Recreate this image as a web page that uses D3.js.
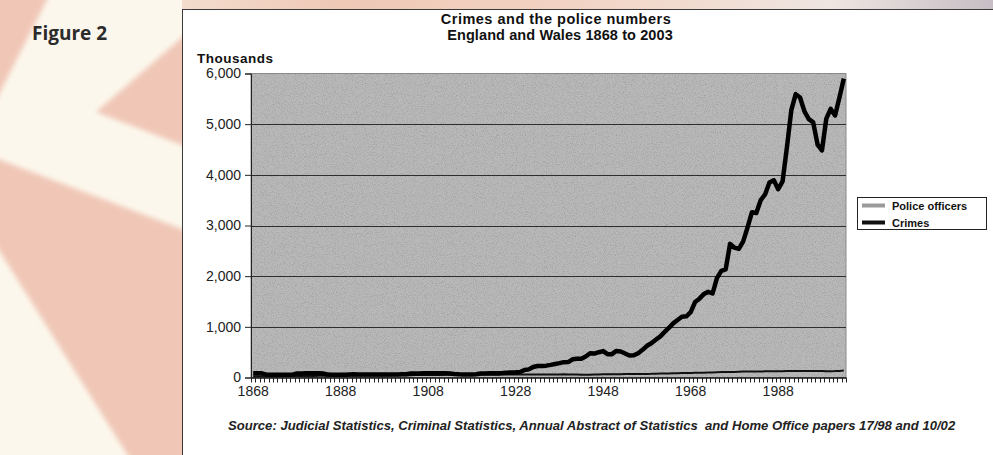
<!DOCTYPE html>
<html>
<head>
<meta charset="utf-8">
<script src="https://cdn.jsdelivr.net/npm/d3@7"></script>
<style>
  body { margin: 0; background: #fcf7ec; }
  svg { display: block; font-family: "Liberation Sans", Arial, sans-serif; }
</style>
</head>
<body>
<svg id="chart" width="993" height="455"></svg>
<script>
// Recorded crimes and police officers, England and Wales (thousands)
const startYear = 1868, endYear = 2003;
const years = d3.range(startYear, endYear + 1);

const crimes = [
  85, 86, 83, 56, 54, 55, 53, 52, 54, 56,            // 1868-1877
  80, 81, 82, 83, 84, 82, 79, 57, 56, 55,            // 1878-1887
  54, 55, 60, 62, 61, 60, 61, 59, 58, 58,            // 1888-1897
  59, 57, 58, 60, 62, 63, 78, 80, 81, 82,            // 1898-1907
  83, 85, 84, 82, 83, 81, 70, 62, 58, 57,            // 1908-1917
  60, 63, 80, 79, 82, 83, 85, 88, 96, 100,           // 1918-1927
  103, 108, 148, 160, 208, 227, 229, 234, 249, 266,  // 1928-1937
  283, 303, 305, 359, 372, 372, 415, 478, 472, 499,  // 1938-1947
  522, 460, 461, 525, 513, 473, 434, 438, 480, 546,  // 1948-1957
  626, 676, 744, 807, 896, 978, 1068, 1134, 1199, 1207, // 1958-1967
  1290, 1489, 1556, 1646, 1690, 1658, 1963, 2106, 2136, 2637, // 1968-1977
  2562, 2537, 2688, 2964, 3262, 3247, 3499, 3612, 3847, 3892, // 1978-1987
  3716, 3871, 4544, 5276, 5592, 5526, 5253, 5100, 5036, 4598, // 1988-1997
  4482, 5109, 5301, 5171, 5527, 5899                  // 1998-2003
];

const police = [
  24, 24.5, 25, 25.5, 26, 26.5, 27, 27.5, 28, 28.5,  // 1868-1877
  29, 30, 31, 31.5, 32, 32.5, 33, 33.5, 34, 34.5,    // 1878-1887
  35, 36, 37, 37.5, 38, 38.5, 39, 39.5, 40, 40.5,    // 1888-1897
  41, 41.5, 42, 43, 44, 45, 46, 47, 47.5, 48,        // 1898-1907
  48.5, 49, 50, 51, 52, 53, 52, 50, 48, 47,          // 1908-1917
  50, 55, 57, 57, 56, 56, 56, 57, 57, 57,            // 1918-1927
  58, 58, 59, 59, 59, 59, 59, 60, 60, 61,            // 1928-1937
  61, 62, 60, 58, 57, 55, 54, 55, 58, 60,            // 1938-1947
  62, 62, 63, 64, 66, 67, 67, 68, 69, 70,            // 1948-1957
  71, 72, 75, 77, 79, 81, 83, 86, 88, 90,            // 1958-1967
  91, 92, 93, 96, 99, 101, 104, 107, 108, 107,       // 1968-1977
  108, 112, 117, 119, 120, 120, 120, 121, 121, 122,  // 1978-1987
  124, 125, 127, 127, 128, 127, 127, 127, 127, 127,  // 1988-1997
  126, 125, 124, 126, 130, 136                        // 1998-2003
];

const yTicks = [0, 1000, 2000, 3000, 4000, 5000, 6000];
const xLabelYears = [1868, 1888, 1908, 1928, 1948, 1968, 1988];
const seriesNames = ["Police officers", "Crimes"];
const titleLines = ["Crimes and the police numbers", "England and Wales 1868 to 2003"];
const sourceText = "Source: Judicial Statistics, Criminal Statistics, Annual Abstract of Statistics  and Home Office papers 17/98 and 10/02";

const svg = d3.select("#chart");

// ---- page decoration behind the chart panel ----
const defs = svg.append("defs");
const topGrad = defs.append("linearGradient").attr("id", "topStrip")
  .attr("x1", "0").attr("x2", "1").attr("y1", "0").attr("y2", "0");
[["0%", "#f3dccd"], ["20%", "#efc8b6"], ["45%", "#f2d2c2"], ["65%", "#f1ddd2"],
 ["80%", "#efe6e2"], ["92%", "#d6cdd0"], ["100%", "#c6bec4"]]
  .forEach(([o, c]) => topGrad.append("stop").attr("offset", o).attr("stop-color", c));

// soft edges for the page shapes
defs.append("filter").attr("id", "soft")
  .attr("x", "-10%").attr("y", "-10%").attr("width", "120%").attr("height", "120%")
  .append("feGaussianBlur").attr("stdDeviation", 2.5);

// fine grain for the plot background
const grain = defs.append("filter").attr("id", "grain")
  .attr("x", 0).attr("y", 0).attr("width", "100%").attr("height", "100%");
grain.append("feTurbulence").attr("type", "fractalNoise").attr("baseFrequency", 0.9)
  .attr("numOctaves", 2).attr("seed", 7).attr("result", "noise");
grain.append("feColorMatrix").attr("in", "noise").attr("type", "matrix")
  .attr("values", "0 0 0 0 0  0 0 0 0 0  0 0 0 0 0  1 0 0 0 -0.45");

svg.append("rect").attr("width", 993).attr("height", 455).attr("fill", "#fcf7ec");
svg.append("rect").attr("x", 182).attr("y", 0).attr("width", 811).attr("height", 10)
  .attr("fill", "url(#topStrip)");

const peach = "#f0c7b7";
const shapes = [
  [[-10, -10], [52, -10], [-10, 112]],
  [[96, 112], [200, 22], [200, 152]],
  [[-10, 156], [200, 236], [200, 470], [137, 470], [-10, 236]]
];
svg.append("g").attr("filter", "url(#soft)")
  .selectAll("polygon").data(shapes).join("polygon")
  .attr("points", d => d.map(p => p.join(",")).join(" "))
  .attr("fill", peach);

svg.append("text").attr("x", 32).attr("y", 40)
  .attr("font-family", "'Open Sans', sans-serif").attr("font-weight", 700)
  .attr("font-size", 19).attr("fill", "#2b2b2b").text("Figure 2");

// ---- chart panel ----
svg.append("rect").attr("x", 182.5).attr("y", 9.5).attr("width", 830).attr("height", 460)
  .attr("fill", "#ffffff").attr("stroke", "#3a3a3a").attr("stroke-width", 1);

const plot = { left: 251, right: 846, top: 73.5, bottom: 377.5 };

const x = d3.scaleBand().domain(years).range([plot.left, plot.right]).paddingInner(0).paddingOuter(0);
const xc = yr => x(yr) + x.bandwidth() / 2;
const y = d3.scaleLinear().domain([0, 6000]).range([plot.bottom, plot.top]);

// plot background
svg.append("rect").attr("x", plot.left).attr("y", plot.top)
  .attr("width", plot.right - plot.left).attr("height", plot.bottom - plot.top)
  .attr("fill", "#b9b9b9");
svg.append("rect").attr("x", plot.left).attr("y", plot.top)
  .attr("width", plot.right - plot.left).attr("height", plot.bottom - plot.top)
  .attr("fill", "#fff").attr("filter", "url(#grain)").attr("opacity", 0.35);
svg.append("rect").attr("x", plot.left).attr("y", plot.top)
  .attr("width", plot.right - plot.left).attr("height", plot.bottom - plot.top)
  .attr("fill", "none").attr("stroke", "#8a8a8a").attr("stroke-width", 1);

// gridlines
svg.append("g").selectAll("line").data(yTicks.filter(t => t > 0 && t < 6000)).join("line")
  .attr("x1", plot.left).attr("x2", plot.right)
  .attr("y1", d => Math.round(y(d)) + 0.5).attr("y2", d => Math.round(y(d)) + 0.5)
  .attr("stroke", "#2e2e2e").attr("stroke-width", 1);

// y axis
const yAxis = d3.axisLeft(y).tickValues(yTicks).tickFormat(d3.format(",")).tickSize(6).tickPadding(4);
const gy = svg.append("g").attr("transform", `translate(${plot.left},0)`).call(yAxis);
gy.select(".domain").attr("stroke", "#222");
gy.selectAll(".tick line").attr("stroke", "#222");
gy.selectAll(".tick text").attr("font-size", 14).attr("fill", "#222")
  .attr("font-family", "'Liberation Sans', Arial, sans-serif");

// x axis: one tick per year boundary, labels every twenty years
const gx = svg.append("g").attr("transform", `translate(0,${plot.bottom})`);
gx.append("line").attr("x1", plot.left).attr("x2", plot.right).attr("y1", 0.5).attr("y2", 0.5)
  .attr("stroke", "#111").attr("stroke-width", 1.5);
const boundaries = years.map(yr => x(yr)).concat([plot.right]);
gx.selectAll("line.tk").data(boundaries).join("line").attr("class", "tk")
  .attr("x1", d => Math.round(d) + 0.5).attr("x2", d => Math.round(d) + 0.5)
  .attr("y1", 0).attr("y2", 5).attr("stroke", "#222").attr("stroke-width", 1);
const xAxis = d3.axisBottom(x).tickValues(xLabelYears).tickSize(0).tickPadding(9);
const gxl = svg.append("g").attr("transform", `translate(0,${plot.bottom})`).call(xAxis);
gxl.select(".domain").remove();
gxl.selectAll(".tick text").attr("font-size", 14).attr("fill", "#222")
  .attr("font-family", "'Liberation Sans', Arial, sans-serif");

// series lines
const line = d3.line().x((d, i) => xc(years[i])).y(d => y(d)).curve(d3.curveLinear);
svg.append("path").datum(police).attr("d", line).attr("fill", "none")
  .attr("stroke", "#111").attr("stroke-width", 2);
svg.append("path").datum(crimes).attr("d", line).attr("fill", "none")
  .attr("stroke", "#000").attr("stroke-width", 4.5).attr("stroke-linejoin", "round");

// titles
svg.append("text").attr("x", 556).attr("y", 24).attr("text-anchor", "middle")
  .attr("font-weight", 700).attr("font-size", 14.5).attr("letter-spacing", 0.5)
  .attr("fill", "#111").text(titleLines[0]);
svg.append("text").attr("x", 560).attr("y", 40).attr("text-anchor", "middle")
  .attr("font-weight", 700).attr("font-size", 14.5).attr("letter-spacing", 0.1)
  .attr("fill", "#111").text(titleLines[1]);
svg.append("text").attr("x", 197).attr("y", 63)
  .attr("font-weight", 700).attr("font-size", 13.5).attr("letter-spacing", 0.5)
  .attr("fill", "#111").text("Thousands");

// legend
const lg = svg.append("g");
lg.append("rect").attr("x", 857.5).attr("y", 197.5).attr("width", 129).attr("height", 32)
  .attr("fill", "#fff").attr("stroke", "#222").attr("stroke-width", 1);
const legendColors = ["#9a9a9a", "#111"];
seriesNames.forEach((name, i) => {
  const cy = 205.5 + i * 17;
  lg.append("line").attr("x1", 862).attr("x2", 885).attr("y1", cy).attr("y2", cy)
    .attr("stroke", legendColors[i]).attr("stroke-width", 4);
  lg.append("text").attr("x", 892).attr("y", cy + 4).attr("font-weight", 700)
    .attr("font-size", 11).attr("fill", "#111").text(name);
});

// source note
svg.append("text").attr("x", 228).attr("y", 430)
  .attr("font-weight", 700).attr("font-style", "italic").attr("font-size", 13.1)
  .attr("fill", "#222").style("white-space", "pre").text(sourceText);
</script>
</body>
</html>
